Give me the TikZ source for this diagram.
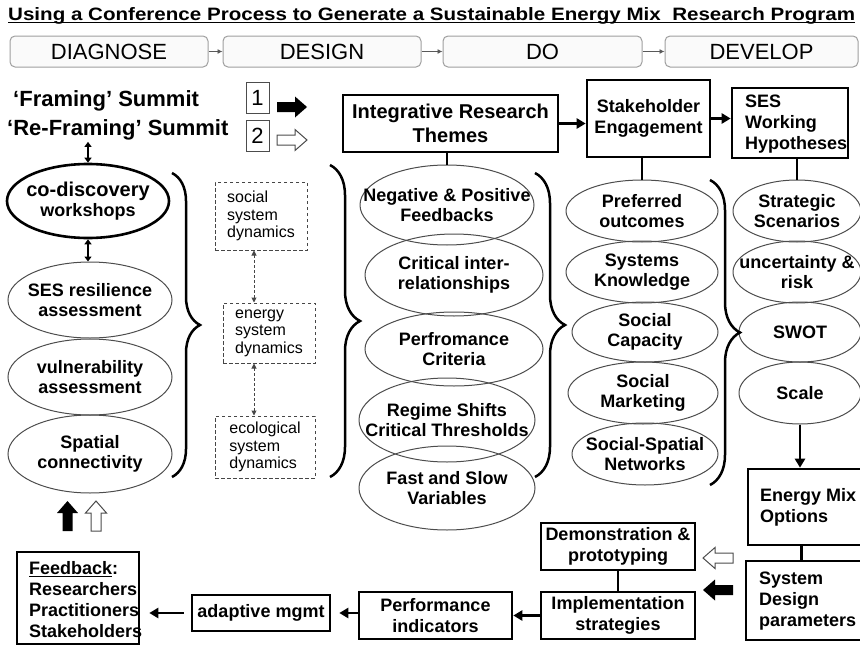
\documentclass[tikz,border=0pt]{standalone}
\usepackage{fontspec}
\setmainfont{Liberation Sans}
\usetikzlibrary{shapes.geometric, decorations.pathreplacing, arrows.meta}

\tikzset{
  phase/.style={draw=gray!75, rounded corners=5pt, line width=1pt, fill=gray!4,
    minimum height=31pt, inner sep=0, font=\fontsize{22}{26}\selectfont},
  phasearr/.style={draw=gray!70!black, line width=0.8pt, -{Latex[length=5pt,width=5pt]}},
  summit/.style={inner sep=0, font=\bfseries\fontsize{22}{26}\selectfont},
  numbox/.style={draw=gray!60!black, line width=0.9pt, inner sep=0, minimum width=23pt,
    minimum height=31pt, font=\fontsize{22}{26}\selectfont},
  ell/.style={ellipse, draw=gray!60!black, line width=1pt, inner sep=0},
  lbl/.style={inner sep=0, align=center, font=\bfseries\fontsize{18}{20}\selectfont},
  boxtxt/.style={inner sep=0, align=left, font=\bfseries\fontsize{18}{21}\selectfont},
  frame/.style={draw, line width=2.6pt, inner sep=0, align=center,
    font=\bfseries\fontsize{18}{21}\selectfont},
  dbox/.style={draw=gray!55!black, dash pattern=on 3.5pt off 2.5pt, line width=1pt,
    inner sep=0, align=left, font=\fontsize{16}{17.5}\selectfont},
  link/.style={line width=2.4pt},
  arr/.style={line width=2.4pt, -{Triangle[length=9pt,width=10pt]}},
  dbl/.style={line width=2pt, {Triangle[length=5pt,width=7pt]}-{Triangle[length=5pt,width=7pt]}},
  dasharr/.style={draw=gray!55!black, dash pattern=on 3pt off 2pt, line width=1pt,
    {Triangle[length=5pt,width=5pt]}-{Triangle[length=5pt,width=5pt]}},
  curly/.style={decorate, decoration={brace, amplitude=#1}, line width=2.5pt},
  blockarrow/.pic={\path[pic actions] (0,-5) -- (18,-5) -- (18,-10.5) -- (30,0)
    -- (18,10.5) -- (18,5) -- (0,5) -- cycle;},
  solidarr/.style={fill=black},
  hollowarr/.style={draw=gray!60!black, fill=white, line width=1pt}
}

% oval with its label: [options] name, centre, width, height, text
\newcommand{\themeoval}[6][]{%
  \node[ell, minimum width=#4, minimum height=#5, #1] (#2) at (#3) {};
  \node[lbl] (#2-t) at (#2.center) {#6};}

\begin{document}
\begin{tikzpicture}[x=1pt, y=-1pt]
\useasboundingbox (0,0) rectangle (860,645);

% heading
\node[anchor=base west, inner sep=0] (title) at (8,20)
  {\resizebox{847pt}{13pt}{\bfseries Using a Conference Process to Generate a Sustainable Energy Mix\ \ Research Program}};
\draw[line width=1.2pt] ([yshift=-2.5pt]title.base west) -- ([yshift=-2.5pt]title.base east);

% phases
\node[phase, minimum width=198pt] (diag) at (109,51.5) {DIAGNOSE};
\node[phase, minimum width=198pt] (design) at (322,51.5) {DESIGN};
\node[phase, minimum width=199pt] (do) at (542.5,51.5) {DO};
\node[phase, minimum width=193pt] (develop) at (761.5,51.5) {DEVELOP};
\draw[phasearr] (diag) -- (design);
\draw[phasearr] (design) -- (do);
\draw[phasearr] (do) -- (develop);

% summits and legend
\node[summit, anchor=base west] (frame) at (13,106) {‘Framing’ Summit};
\node[summit, anchor=base west] (reframe) at (7,135) {‘Re-Framing’ Summit};
\node[numbox] (one) at (257.5,97.5) {1};
\node[numbox] (two) at (257.5,135.5) {2};
\pic[solidarr] at (277,107) {blockarrow};
\pic[hollowarr] at (277,140) {blockarrow};

% diagnose column
\themeoval[draw=black, line width=2.6pt]{codisc}{88,201}{162pt}{74pt}{\fontsize{20}{24}\selectfont co-discovery\\workshops}
\themeoval{sesres}{90,300}{164pt}{76pt}{SES resilience\\assessment}
\themeoval{vuln}{90,377}{164pt}{76pt}{vulnerability\\assessment}
\themeoval{spatial}{90,454}{164pt}{78pt}{Spatial\\connectivity}
\draw[dbl, shorten <=2pt] (codisc.north |- reframe.south) -- (codisc.north);
\draw[dbl] (codisc.south) -- (codisc.south |- sesres.north);

% system dynamics
\node[dbox, minimum width=92pt, minimum height=68pt] (social) at (261,216) {social\\system\\dynamics};
\node[dbox, minimum width=92pt, minimum height=60pt] (energy) at (269,333) {energy\\system\\dynamics};
\node[dbox, minimum width=100pt, minimum height=62pt] (eco) at (265,447) {ecological\\system\\dynamics};
\draw[dasharr] ([xshift=-7pt]social.south) -- ([xshift=-15pt]energy.north);
\draw[dasharr] ([xshift=-15pt]energy.south) -- ([xshift=-11pt]eco.north);

% research themes
\node[frame, minimum width=215pt, minimum height=57pt, font=\bfseries\fontsize{20}{24}\selectfont]
  (irt) at (450.5,123.5) {Integrative Research\\Themes};
\themeoval{neg}{447,205}{174pt}{80pt}{Negative \& Positive\\Feedbacks}
\themeoval{crit}{454,275}{178pt}{82pt}{Critical inter-\\relationships}
\themeoval{perf}{454,349}{178pt}{74pt}{Perfromance\\Criteria}
\themeoval{regime}{447,420}{176pt}{84pt}{Regime Shifts\\Critical Thresholds}
\themeoval{fast}{447,488}{176pt}{84pt}{Fast and Slow\\Variables}
\draw[link] (neg.north |- irt.south) -- (neg.north);

% stakeholder engagement
\node[frame, minimum width=123pt, minimum height=77pt] (stake) at (648.5,118.5) {Stakeholder\\Engagement};
\themeoval{pref}{642,211}{152pt}{62pt}{Preferred\\outcomes}
\themeoval{sysk}{642,272}{152pt}{62pt}{Systems\\Knowledge}
\themeoval{socap}{645,332}{146pt}{60pt}{Social\\Capacity}
\themeoval{somark}{643,393}{150pt}{62pt}{Social\\Marketing}
\themeoval{sospat}{645,454}{146pt}{62pt}{Social-Spatial\\Networks}
\draw[link] (pref.north |- stake.south) -- (pref.north);

% working hypotheses
\node[frame, minimum width=116pt, minimum height=70pt] (seswh) at (790,123) {};
\node[boxtxt, anchor=west] (seswh-t) at (745,124) {SES\\Working\\Hypotheses};
\themeoval{strat}{797,211}{128pt}{62pt}{Strategic\\Scenarios}
\themeoval{unc}{797,272}{128pt}{62pt}{uncertainty \&\\risk}
\themeoval{swot}{800,332}{122pt}{60pt}{SWOT}
\themeoval{scale}{800,393}{122pt}{62pt}{Scale}
\draw[link] (strat.north |- seswh.south) -- (strat.north);

\draw[arr] (irt.east) -- (irt.east -| stake.west);
\draw[arr] (stake.east) -- (stake.east -| seswh.west);

% braces
\draw[curly=28pt] (172,173) -- (172,477);
\draw[curly=30pt] (330,165) -- (330,477);
\draw[curly=30pt] (535,173) -- (535,477);
\draw[curly=30pt] (710,180) -- (710,485);

% develop stage
\node[frame, minimum width=115pt, minimum height=76pt] (emix) at (805.5,507) {};
\node[boxtxt, anchor=west] (emix-t) at (760,507.5) {Energy Mix\\Options};
\node[frame, minimum width=117pt, minimum height=79pt] (sysdes) at (804.5,600.5) {};
\node[boxtxt, anchor=west] (sysdes-t) at (759,601) {System\\Design\\parameters};
\draw[arr] (scale.south) -- (scale.south |- emix.north);
\draw[link] ([xshift=-4pt]emix.south) -- ([xshift=-3pt]sysdes.north);

\pic[hollowarr, rotate=180] at (733,558) {blockarrow};
\pic[solidarr, rotate=180] at (733,590) {blockarrow};

\node[frame, minimum width=154pt, minimum height=47pt] (demo) at (618,546.5) {Demonstration \&\\prototyping};
\node[frame, minimum width=154pt, minimum height=47pt] (impl) at (618,615.5) {Implementation\\strategies};
\node[frame, minimum width=153pt, minimum height=47pt] (perfind) at (435.5,615.5) {Performance\\indicators};
\node[frame, minimum width=138pt, minimum height=36pt] (adapt) at (261,613) {adaptive mgmt};
\node[boxtxt, anchor=west] (fb-t) at (29,600) {\underline{Feedback}:\\Researchers\\Practitioners\\Stakeholders};
\node[frame, minimum width=122pt, minimum height=92pt] (fb) at (78,598) {};
\draw[link] (demo) -- (impl);
\draw[arr] (impl.west) -- (impl.west -| perfind.east);
\draw[arr, shorten >=8pt] (perfind.west |- adapt.east) -- (adapt.east);
\draw[arr, shorten <=7pt, shorten >=9pt] (adapt.west) -- (adapt.west -| fb.east);

% feedback into the workshops
\pic[solidarr, rotate=90] at (67.5,531) {blockarrow};
\pic[hollowarr, rotate=90] at (96,531) {blockarrow};
\end{tikzpicture}
\end{document}
